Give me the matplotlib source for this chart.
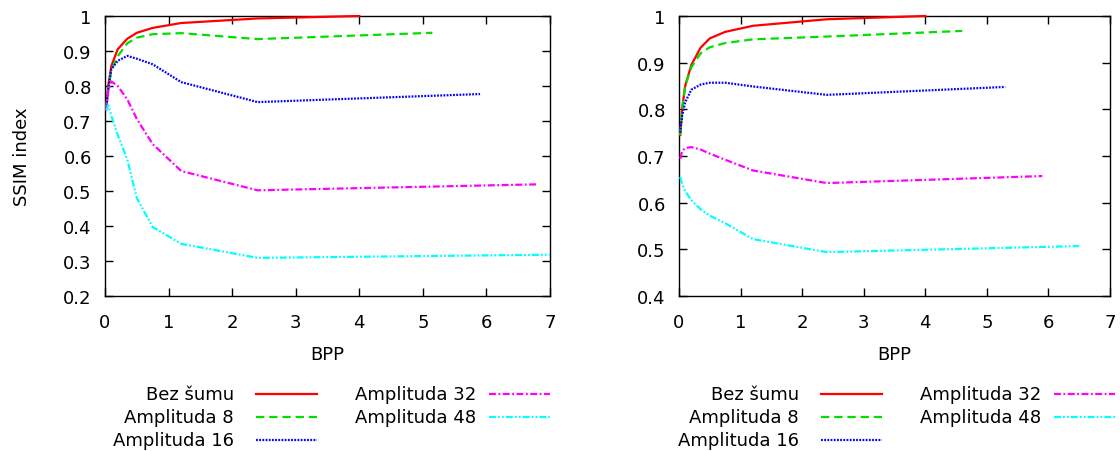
import matplotlib
matplotlib.use("Agg")
import matplotlib.pyplot as plt
from matplotlib.lines import Line2D
from matplotlib.ticker import FuncFormatter

plt.rcParams['font.family'] = ['DejaVu Sans']
plt.rcParams['lines.scale_dashes'] = False

labels = ["Bez šumu", "Amplituda 8", "Amplituda 16", "Amplituda 32", "Amplituda 48"]
colors = ["#ff0000", "#00e000", "#0000ff", "#ff00ff", "#00ffff"]
dashes = [None, (6, 3.5), (1.3, 1.0), (5, 1.8, 1.3, 1.8), (5, 1.5, 1.3, 1.5, 1.3, 1.5)]

# Left panel
left_x = [
    [0.02, 0.05, 0.1, 0.2, 0.35, 0.5, 0.75, 1.2, 2.4, 4.0],
    [0.02, 0.05, 0.1, 0.2, 0.35, 0.5, 0.75, 1.2, 2.4, 5.15],
    [0.02, 0.05, 0.1, 0.2, 0.35, 0.5, 0.75, 1.2, 2.4, 5.9],
    [0.02, 0.05, 0.1, 0.2, 0.35, 0.5, 0.75, 1.2, 2.4, 6.8],
    [0.02, 0.05, 0.1, 0.2, 0.35, 0.5, 0.75, 1.2, 2.4, 7.0],
]
left_y = [
    [0.74, 0.80, 0.857, 0.905, 0.935, 0.952, 0.966, 0.98, 0.993, 1.0],
    [0.74, 0.79, 0.845, 0.885, 0.922, 0.938, 0.948, 0.951, 0.934, 0.952],
    [0.735, 0.79, 0.848, 0.872, 0.886, 0.878, 0.862, 0.811, 0.754, 0.777],
    [0.73, 0.785, 0.813, 0.80, 0.762, 0.706, 0.634, 0.557, 0.502, 0.519],
    [0.73, 0.745, 0.715, 0.66, 0.59, 0.48, 0.397, 0.349, 0.309, 0.318],
]

# Right panel
right_x = [
    [0.02, 0.05, 0.1, 0.2, 0.35, 0.5, 0.75, 1.2, 2.4, 4.0],
    [0.02, 0.05, 0.1, 0.2, 0.35, 0.5, 0.75, 1.2, 2.4, 4.6],
    [0.02, 0.05, 0.1, 0.2, 0.35, 0.5, 0.75, 1.2, 2.4, 5.3],
    [0.02, 0.05, 0.1, 0.2, 0.35, 0.5, 0.75, 1.2, 2.4, 5.9],
    [0.02, 0.05, 0.1, 0.2, 0.35, 0.5, 0.75, 1.2, 2.4, 6.5],
]
right_y = [
    [0.745, 0.80, 0.85, 0.895, 0.932, 0.952, 0.966, 0.979, 0.993, 1.0],
    [0.745, 0.80, 0.85, 0.89, 0.92, 0.933, 0.942, 0.95, 0.956, 0.968],
    [0.75, 0.785, 0.815, 0.842, 0.853, 0.857, 0.857, 0.849, 0.831, 0.848],
    [0.694, 0.71, 0.717, 0.719, 0.714, 0.705, 0.692, 0.669, 0.642, 0.657],
    [0.655, 0.64, 0.625, 0.605, 0.586, 0.572, 0.556, 0.522, 0.494, 0.507],
]

x_ticks = [0, 1, 2, 3, 4, 5, 6, 7]
left_yticks = [0.2, 0.3, 0.4, 0.5, 0.6, 0.7, 0.8, 0.9, 1.0]
right_yticks = [0.4, 0.5, 0.6, 0.7, 0.8, 0.9, 1.0]

W, H = 1120, 452
fig = plt.figure(figsize=(W / 100, H / 100), dpi=100)
FS = 13

def px(x0, y0, x1, y1):
    return [x0 / W, 1 - y1 / H, (x1 - x0) / W, (y1 - y0) / H]

ax1 = fig.add_axes(px(105, 17, 550, 297))
ax2 = fig.add_axes(px(679, 17, 1110, 297))

def style(ax, xs, ys, yticks, ylim):
    for x, y, c, d in zip(xs, ys, colors, dashes):
        ln, = ax.plot(x, y, color=c, lw=1.6, clip_on=False, zorder=3)
        if d is not None:
            ln.set_dashes(d)
    ax.set_xlim(0, 7)
    ax.set_ylim(*ylim)
    ax.set_xticks(x_ticks)
    ax.set_yticks(yticks)
    ax.yaxis.set_major_formatter(FuncFormatter(lambda v, p: f"{v:g}"))
    ax.tick_params(direction='in', length=6, width=1, top=True, right=True,
                   labelsize=FS, colors='black')
    ax.tick_params(axis='x', pad=12)
    ax.tick_params(axis='y', pad=9.5)
    for s in ax.spines.values():
        s.set_linewidth(1)
    ax.set_xlabel("BPP", fontsize=FS, labelpad=10)

style(ax1, left_x, left_y, left_yticks, (0.2, 1.0))
style(ax2, right_x, right_y, right_yticks, (0.4, 1.0))
ax1.set_ylabel("SSIM index", fontsize=FS, labelpad=23)

def legend(offset):
    rows = [395, 418, 441]
    cols = [(234, 256, 317), (476, 489, 550)]
    for i, (lab, c, d) in enumerate(zip(labels, colors, dashes)):
        col = 0 if i < 3 else 1
        row = i if i < 3 else i - 3
        tx, l0, l1 = cols[col]
        y = rows[row]
        fig.text((tx + offset) / W, 1 - y / H, lab, ha='right', va='center', fontsize=FS)
        ln = Line2D([(l0 + offset) / W, (l1 + offset) / W], [1 - y / H, 1 - y / H],
                    transform=fig.transFigure, color=c, lw=1.6)
        if d is not None:
            ln.set_dashes(d)
        fig.add_artist(ln)

legend(0)
legend(565)

fig.savefig("out.png", dpi=100)
